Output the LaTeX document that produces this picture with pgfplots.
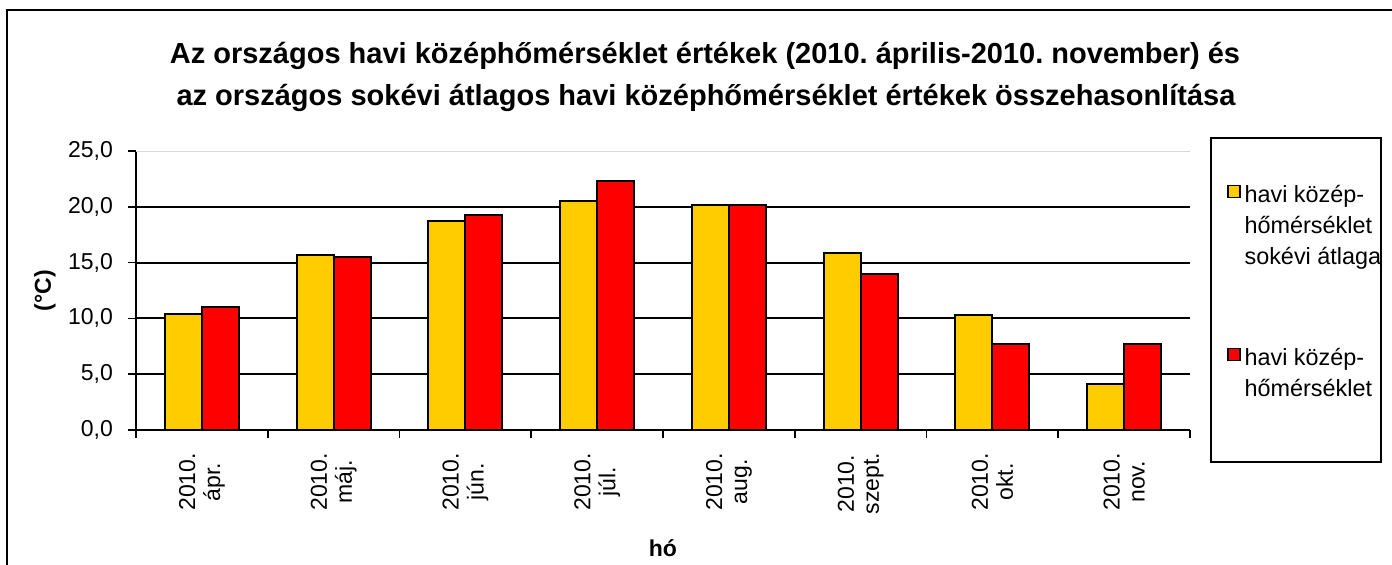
\documentclass[border=0pt]{standalone}
\usepackage{fontspec}
\setmainfont{Liberation Sans}
\usepackage{pgfplots}
\pgfplotsset{compat=1.18}
\frenchspacing
\definecolor{barY}{RGB}{255,204,0}
\definecolor{barR}{RGB}{255,0,0}
\pgfplotsset{sqlegend/.style={legend image code/.code={\draw[##1,line width=0.6pt] (0pt,2.5pt) rectangle (6pt,8.5pt);}}}
\begin{document}
\begin{tikzpicture}[x=0.5pt,y=0.5pt]
\useasboundingbox (0,0) rectangle (1392,564);
\begin{scope}
\clip (0,0) rectangle (1392,564);
\draw[line width=1.2pt] (7,-40) -- (7,554) -- (1420,554);
\end{scope}
\node[font=\bfseries\fontsize{14.5}{18}\selectfont, anchor=base] at (705,501) {Az országos havi középhőmérséklet értékek (2010. április-2010. november) és};
\node[font=\bfseries\fontsize{14.5}{18}\selectfont, anchor=base] at (706,459) {az országos sokévi átlagos havi középhőmérséklet értékek összehasonlítása};
\draw[line width=0.7pt] (1211,426) rectangle (1381,102);
\begin{axis}[
  at={(68pt,67pt)}, anchor=south west,
  scale only axis, width=527pt, height=139.5pt,
  xmin=-0.5, xmax=7.5, ymin=0, ymax=25,
  axis x line*=bottom, axis y line*=left,
  axis line style={black, line width=1pt},
  xtick={-0.5,0.5,...,7.5}, x tick label as interval,
  xticklabels={{2010.\\ápr.},{2010.\\máj.},{2010.\\jún.},{2010.\\júl.},{2010.\\aug.},{2010.\\szept.},{2010.\\okt.},{2010.\\nov.}},
  x tick label style={rotate=90, anchor=east, align=center, font=\fontsize{11.5}{12.5}\selectfont},
  xticklabel shift=4pt,
  ytick={0,5,...,25},
  yticklabel style={font=\fontsize{11.5}{13}\selectfont, xshift=-4pt, /pgf/number format/fixed, /pgf/number format/fixed zerofill, /pgf/number format/precision=1, /pgf/number format/use comma, /pgf/number format/assume math mode=true},
  tick align=outside, major tick length=4pt,
  tick style={black, line width=0.8pt},
  extra y ticks={5,10,15,20}, extra y tick labels={},
  extra y tick style={grid=major, major tick length=0pt},
  grid style={black, line width=1pt},
  ylabel={\bfseries (°C)},
  ylabel style={at={(axis description cs:-0.0863,0.5)}, anchor=center, font=\fontsize{11.5}{13}\selectfont},
  xlabel={\bfseries hó},
  xlabel style={at={(axis description cs:0.5,-0.423)}, anchor=center, font=\fontsize{11.5}{13}\selectfont},
  ybar, bar width=0.28,
  legend style={at={(axis description cs:1.0351,0.908)}, anchor=north west, draw=none, fill=none, inner sep=0pt,
    font=\fontsize{11.7}{15.5}\selectfont, row sep=65pt,
    cells={anchor=base west, inner xsep=4.5pt, inner ysep=0pt}},
]
\addplot[fill=barY, draw=black, line width=1pt, bar shift=-0.14, sqlegend] coordinates {(0,10.4) (1,15.7) (2,18.7) (3,20.5) (4,20.2) (5,15.9) (6,10.3) (7,4.1)};
\addlegendentry{\begin{tabular}[t]{@{}l@{}}havi közép-\\hőmérséklet\\sokévi átlaga\end{tabular}}
\addplot[fill=barR, draw=black, line width=1pt, bar shift=0.14, sqlegend] coordinates {(0,11.0) (1,15.5) (2,19.3) (3,22.3) (4,20.2) (5,14.0) (6,7.7) (7,7.7)};
\addlegendentry{\begin{tabular}[t]{@{}l@{}}havi közép-\\hőmérséklet\end{tabular}}
\draw[black!15, line width=0.7pt] (axis cs:-0.5,25) -- (axis cs:7.5,25);
\end{axis}
\end{tikzpicture}
\end{document}
